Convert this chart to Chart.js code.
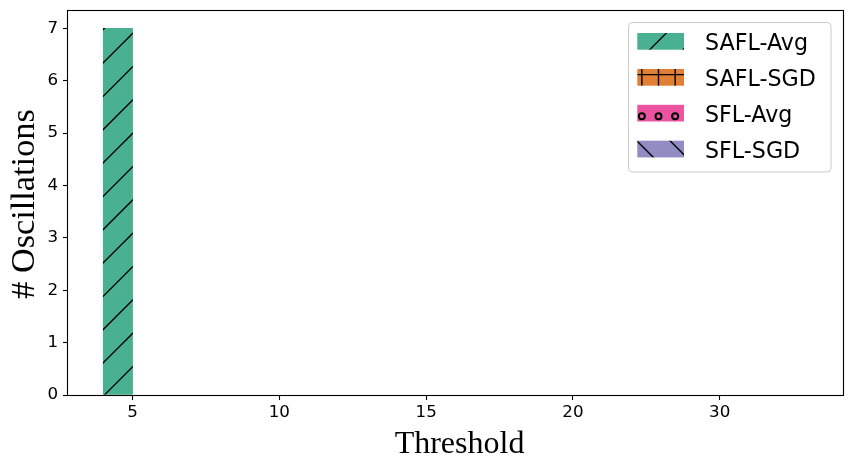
<!DOCTYPE html>
<html>
<head>
<meta charset="utf-8">
<script src="https://cdn.jsdelivr.net/npm/chart.js@4/dist/chart.umd.min.js"></script>
<style>
  html, body { margin: 0; padding: 0; background: #ffffff; }
  #wrap { width: 852px; height: 469px; }
</style>
</head>
<body>
<div id="wrap"><canvas id="c" width="852" height="469"></canvas></div>
<script>
// ---- data ----
const thresholds = ['5', '10', '15', '20', '30'];
const seriesNames = ['SAFL-Avg', 'SAFL-SGD', 'SFL-Avg', 'SFL-SGD'];
const saflAvg = [7, 0, 0, 0, 0];
const saflSgd = [0, 0, 0, 0, 0];
const sflAvg  = [0, 0, 0, 0, 0];
const sflSgd  = [0, 0, 0, 0, 0];
const yTickValues = [0, 1, 2, 3, 4, 5, 6, 7];
const xLabel = 'Threshold';
const yLabel = '# Oscillations';

// ---- styles ----
const seriesOffsets = [-0.1, 0.1, 0.3, 0.5];
const seriesColors = ['rgb(73,177,146)', 'rgb(225,127,53)', 'rgb(236,84,161)', 'rgb(145,141,194)'];
const seriesHatch = ['/', '+', 'o', '\\'];
const SANS = '"DejaVu Sans", sans-serif';
const SERIF = '"Liberation Serif", "Times New Roman", serif';

function makePattern(bg, kind) {
  const T = 100, u = 100 / 6;
  const c = document.createElement('canvas');
  c.width = T; c.height = T;
  const g = c.getContext('2d');
  g.fillStyle = bg; g.fillRect(0, 0, T, T);
  g.strokeStyle = '#000'; g.lineWidth = 1.4;
  g.beginPath();
  if (kind === '/') {
    for (let k = -8; k <= 14; k++) {
      const s = 32.7 + k * 2 * u; // x + y = s
      g.moveTo(s + T, -T); g.lineTo(s - 2 * T, 2 * T);
    }
  } else if (kind === '\\') {
    for (let k = -8; k <= 14; k++) {
      const s = 29.3 + k * 2 * u - 200; // x - y = s
      g.moveTo(s - T, -T); g.lineTo(s + 2 * T, 2 * T);
    }
  } else if (kind === '+') {
    for (let k = -2; k <= 8; k++) {
      const x = 8.5 + k * u, y = 8.0 + k * u;
      g.moveTo(x, -5); g.lineTo(x, T + 5);
      g.moveTo(-5, y); g.lineTo(T + 5, y);
    }
  }
  g.stroke();
  if (kind === 'o') {
    g.lineWidth = 2.0;
    for (let r = -8; r <= 2; r++) {
      const y = 116.3 + r * u - 100;
      for (let k = -2; k <= 8; k++) {
        const x = 8.5 + (Math.abs(r) % 2 === 1 ? u / 2 : 0) + k * u;
        g.beginPath();
        g.arc(x, y, 3.0, 0, Math.PI * 2);
        g.stroke();
      }
    }
  }
  return g.createPattern(c, 'repeat');
}

const seriesValues = [saflAvg, saflSgd, sflAvg, sflSgd];
const patterns = seriesColors.map((col, i) => makePattern(col, seriesHatch[i]));

const datasets = seriesNames.map((name, s) => ({
  label: name,
  data: seriesValues[s].map((v, i) => ({ x: i + seriesOffsets[s], y: v })),
  backgroundColor: (ctx) => (ctx.raw && ctx.raw.y === 0) ? 'rgba(0,0,0,0)' : patterns[s],
  borderWidth: 0,
  grouped: false,
  categoryPercentage: 1.0,
  barPercentage: 1.0
}));

const decor = {
  id: 'decor',
  afterDatasetsDraw(chart) {
    const { ctx, chartArea: a } = chart;
    ctx.save();
    ctx.strokeStyle = '#000';
    ctx.lineWidth = 1.1;
    ctx.strokeRect(Math.round(a.left) - 0.5, Math.round(a.top) + 0.5,
                   Math.round(a.right) - Math.round(a.left) + 1, Math.round(a.bottom) - Math.round(a.top));
    ctx.restore();
  },
  afterDraw(chart) {
    const { ctx } = chart;
    ctx.save();
    // axis titles
    ctx.fillStyle = '#000';
    ctx.font = '32px ' + SERIF;
    ctx.textAlign = 'center';
    ctx.textBaseline = 'alphabetic';
    ctx.fillText(xLabel, 459.5, 453.3);
    ctx.save();
    ctx.translate(33.5, 204);
    ctx.rotate(-Math.PI / 2);
    ctx.font = '34.3px ' + SERIF;
    ctx.fillText(yLabel, 0, 0);
    ctx.restore();

    // legend
    const bx = 628.5, by = 22.5, bw = 202.5, bh = 149.5, r = 4;
    ctx.beginPath();
    ctx.moveTo(bx + r, by);
    ctx.lineTo(bx + bw - r, by); ctx.quadraticCurveTo(bx + bw, by, bx + bw, by + r);
    ctx.lineTo(bx + bw, by + bh - r); ctx.quadraticCurveTo(bx + bw, by + bh, bx + bw - r, by + bh);
    ctx.lineTo(bx + r, by + bh); ctx.quadraticCurveTo(bx, by + bh, bx, by + bh - r);
    ctx.lineTo(bx, by + r); ctx.quadraticCurveTo(bx, by, bx + r, by);
    ctx.closePath();
    ctx.fillStyle = 'rgba(255,255,255,0.8)';
    ctx.fill();
    ctx.strokeStyle = '#cccccc';
    ctx.lineWidth = 1;
    ctx.stroke();

    const rowTop = [33, 69, 104.8, 140.7];
    ctx.font = '22.2px ' + SANS;
    ctx.textAlign = 'left';
    ctx.textBaseline = 'alphabetic';
    seriesNames.forEach((name, i) => {
      ctx.fillStyle = patterns[i];
      ctx.fillRect(637.3, rowTop[i], 46.7, 16.7);
      ctx.fillStyle = '#000';
      ctx.fillText(name, 705, rowTop[i] + 17);
    });
    ctx.restore();
  }
};

new Chart(document.getElementById('c'), {
  type: 'bar',
  data: { datasets },
  options: {
    responsive: false,
    animation: false,
    events: [],
    layout: { padding: { left: 0, right: 9, top: 10, bottom: 0 } },
    plugins: { legend: { display: false }, tooltip: { enabled: false }, title: { display: false } },
    scales: {
      x: {
        type: 'linear',
        offset: false,
        min: -0.44,
        max: 4.84,
        afterBuildTicks(scale) { scale.ticks = thresholds.map((_, i) => ({ value: i })); },
        afterFit(scale) { scale.height = 74; scale.paddingLeft = 0; scale.paddingRight = 0; },
        ticks: {
          autoSkip: false,
          maxRotation: 0,
          color: '#000',
          font: { family: SANS, size: 16.7 },
          padding: 3,
          callback: (v) => thresholds[Math.round(v)]
        },
        grid: { display: true, offset: false, drawOnChartArea: false, drawTicks: true, tickLength: 5, tickColor: '#000', tickWidth: 1.1 },
        border: { display: false },
        title: { display: false }
      },
      y: {
        type: 'linear',
        min: 0,
        max: 7.35,
        afterBuildTicks(scale) { scale.ticks = yTickValues.map(v => ({ value: v })); },
        afterFit(scale) { scale.width = 68; scale.paddingTop = 0; scale.paddingBottom = 0; },
        ticks: {
          autoSkip: false,
          color: '#000',
          font: { family: SANS, size: 16.7 },
          padding: 5,
          callback: (v) => String(v)
        },
        grid: { display: true, offset: false, drawOnChartArea: false, drawTicks: true, tickLength: 5, tickColor: '#000', tickWidth: 1.1 },
        border: { display: false },
        title: { display: false }
      }
    }
  },
  plugins: [decor]
});
</script>
</body>
</html>
